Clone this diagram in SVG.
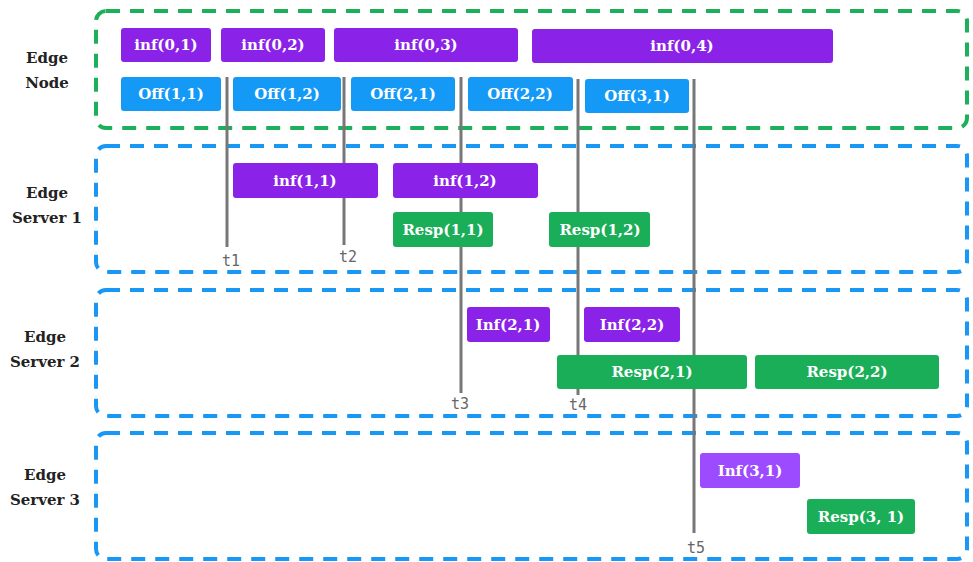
<svg xmlns="http://www.w3.org/2000/svg" width="973" height="562" viewBox="0 0 973 562">
<style>
.lane{fill:none;stroke-width:4;stroke-dasharray:14 10;}
.g{stroke:#1daf5a;}
.b{stroke:#1897f5;}
.lbl{font-family:"DejaVu Serif","Liberation Serif",serif;font-weight:bold;font-size:15px;fill:#222;text-anchor:middle;}
.bx text{font-family:"DejaVu Serif","Liberation Serif",serif;font-weight:bold;font-size:15px;fill:#fff;text-anchor:middle;dominant-baseline:central;}
.inf{fill:#8a22e8;}
.inf2{fill:#9d4bff;}
.off{fill:#1499f7;}
.resp{fill:#1aae58;}
.tl{stroke:#777;stroke-width:3;}
.tt{font-family:"DejaVu Sans Mono","Liberation Mono",monospace;font-size:15px;fill:#666;text-anchor:middle;}
</style>
<g id="lanes">
<rect class="lane g" x="96" y="11" width="871" height="117" rx="10"/>
<rect class="lane b" x="96" y="146" width="871" height="126" rx="10"/>
<rect class="lane b" x="96" y="290" width="871" height="126" rx="10"/>
<rect class="lane b" x="96" y="433" width="871" height="126" rx="10"/>
<text class="lbl" x="47" y="63">Edge</text><text class="lbl" x="47" y="88">Node</text>
<text class="lbl" x="47" y="198">Edge</text><text class="lbl" x="47" y="223">Server 1</text>
<text class="lbl" x="45" y="342">Edge</text><text class="lbl" x="45" y="367">Server 2</text>
<text class="lbl" x="45" y="480">Edge</text><text class="lbl" x="45" y="505">Server 3</text>
</g>
<g id="connectors">
<line class="tl" x1="227" y1="77" x2="227" y2="247"/><text class="tt" x="231" y="266">t1</text>
<line class="tl" x1="344" y1="77" x2="344" y2="245"/><text class="tt" x="348" y="262">t2</text>
<line class="tl" x1="461" y1="77" x2="461" y2="393"/><text class="tt" x="460" y="409">t3</text>
<line class="tl" x1="578" y1="79" x2="578" y2="395"/><text class="tt" x="578" y="410">t4</text>
<line class="tl" x1="694" y1="79" x2="694" y2="533"/><text class="tt" x="696" y="553">t5</text>
</g>
<g id="inf01" class="bx"><rect class="inf" x="121" y="28" width="90" height="34" rx="3"/><text x="166" y="45">inf(0,1)</text></g>
<g id="inf02" class="bx"><rect class="inf" x="221" y="28" width="104" height="34" rx="3"/><text x="273" y="45">inf(0,2)</text></g>
<g id="inf03" class="bx"><rect class="inf" x="334" y="28" width="184" height="34" rx="3"/><text x="426" y="45">inf(0,3)</text></g>
<g id="inf04" class="bx"><rect class="inf" x="532" y="29" width="301" height="34" rx="3"/><text x="682" y="46">inf(0,4)</text></g>
<g id="off11" class="bx"><rect class="off" x="121" y="77" width="100" height="34" rx="3"/><text x="171" y="94">Off(1,1)</text></g>
<g id="off12" class="bx"><rect class="off" x="233" y="77" width="108" height="34" rx="3"/><text x="287" y="94">Off(1,2)</text></g>
<g id="off21" class="bx"><rect class="off" x="351" y="77" width="104" height="34" rx="3"/><text x="403" y="94">Off(2,1)</text></g>
<g id="off22" class="bx"><rect class="off" x="468" y="77" width="105" height="34" rx="3"/><text x="520" y="94">Off(2,2)</text></g>
<g id="off31" class="bx"><rect class="off" x="585" y="79" width="104" height="34" rx="3"/><text x="637" y="96">Off(3,1)</text></g>
<g id="inf11" class="bx"><rect class="inf" x="233" y="163" width="145" height="35" rx="3"/><text x="305" y="181">inf(1,1)</text></g>
<g id="inf12" class="bx"><rect class="inf" x="393" y="163" width="145" height="35" rx="3"/><text x="465" y="181">inf(1,2)</text></g>
<g id="resp11" class="bx"><rect class="resp" x="393" y="212" width="100" height="35" rx="3"/><text x="443" y="230">Resp(1,1)</text></g>
<g id="resp12" class="bx"><rect class="resp" x="549" y="212" width="101" height="35" rx="3"/><text x="600" y="230">Resp(1,2)</text></g>
<g id="inf21" class="bx"><rect class="inf" x="467" y="307" width="83" height="35" rx="3"/><text x="508" y="325">Inf(2,1)</text></g>
<g id="inf22" class="bx"><rect class="inf" x="584" y="307" width="96" height="35" rx="3"/><text x="632" y="325">Inf(2,2)</text></g>
<g id="resp21" class="bx"><rect class="resp" x="557" y="355" width="190" height="34" rx="3"/><text x="652" y="372">Resp(2,1)</text></g>
<g id="resp22" class="bx"><rect class="resp" x="755" y="355" width="184" height="34" rx="3"/><text x="847" y="372">Resp(2,2)</text></g>
<g id="inf31" class="bx"><rect class="inf2" x="700" y="453" width="100" height="35" rx="3"/><text x="750" y="471">Inf(3,1)</text></g>
<g id="resp31" class="bx"><rect class="resp" x="807" y="499" width="108" height="35" rx="3"/><text x="861" y="517">Resp(3, 1)</text></g>
</svg>
